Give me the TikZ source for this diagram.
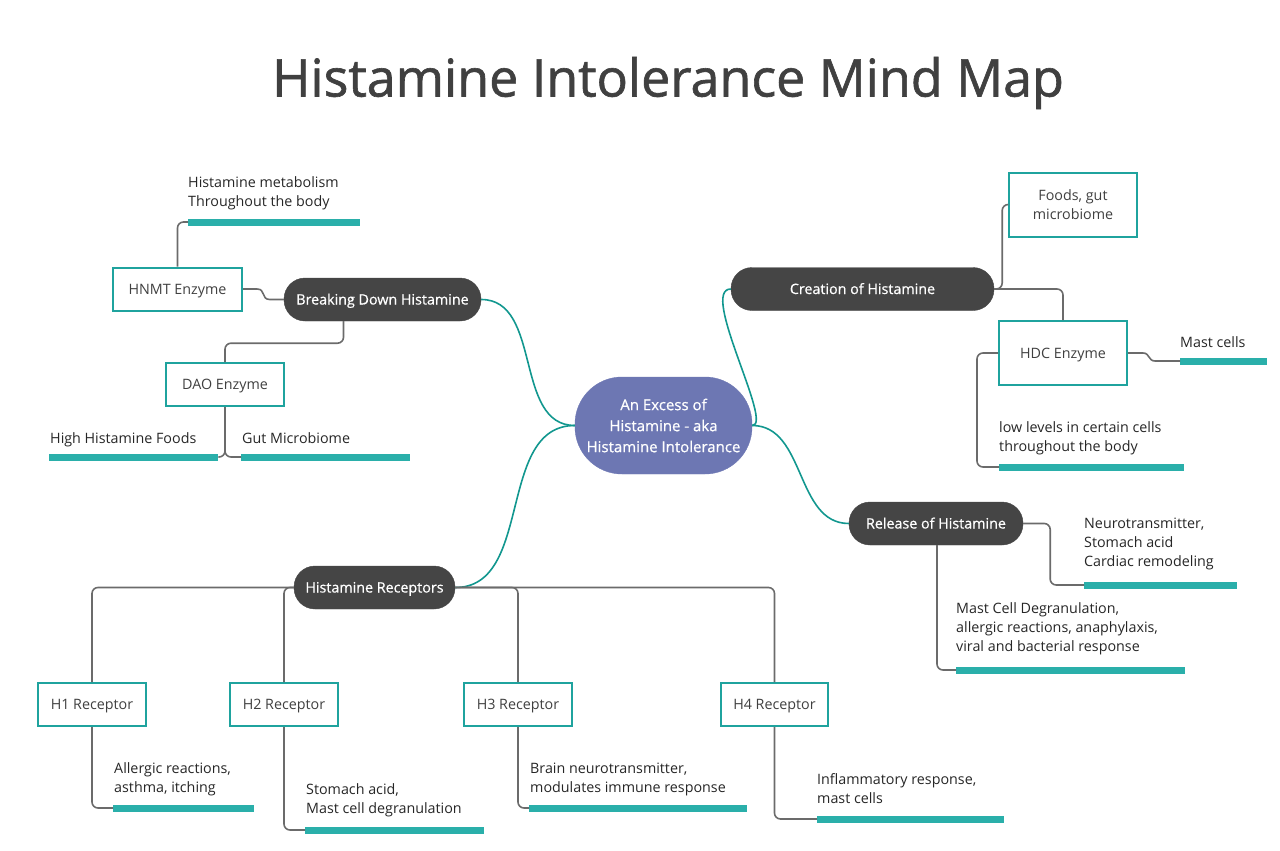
\documentclass[tikz,border=0pt]{standalone}
\usepackage{fontspec}
\setmainfont{Open Sans}
\newfontfamily\titlefont[FakeBold=1.2]{Open Sans}
\newfontfamily\pillfont[FakeBold=0.6]{Open Sans}
\usetikzlibrary{calc}
\definecolor{tealbar}{HTML}{2AAFAA}
\definecolor{tealbox}{HTML}{1FA39E}
\definecolor{tealline}{HTML}{12978F}
\definecolor{grayline}{HTML}{6B6B6B}
\definecolor{pillfill}{HTML}{454545}
\definecolor{ctrfill}{HTML}{6D77B3}
\definecolor{txtcol}{HTML}{262626}
\definecolor{titlecol}{HTML}{404040}
\begin{document}
\begin{tikzpicture}[x=1pt,y=-1pt,
  pill/.style={fill=pillfill, draw=pillfill, rounded corners=21pt, minimum height=43pt, text=white, font=\pillfont\fontsize{14.3}{17}\selectfont, inner sep=0pt, text height=10pt, text depth=0pt},
  boxbase/.style={draw=tealbox, line width=2pt, fill=white, text=titlecol, font=\fontsize{14.3}{19}\selectfont, minimum height=43pt, inner sep=0pt, align=center},
  boxn/.style={boxbase, text height=10pt, text depth=0pt},
  bar/.style={fill=tealbar, draw=none, minimum height=7pt, inner sep=0pt, anchor=west},
  txt/.style={text=txtcol, font=\fontsize{14.3}{19}\selectfont, align=left, inner sep=0pt, anchor=base west},
  conn/.style={draw=grayline, line width=1.6pt, rounded corners=6pt},
  tconn/.style={draw=tealline, line width=1.6pt}
]
\useasboundingbox (0,0) rectangle (1280,851);

% title
\node[text=titlecol, font=\titlefont\fontsize{52}{56}\selectfont, inner sep=0pt] (title) at (668,83) {Histamine Intolerance Mind Map};

% center
\node[fill=ctrfill, draw=ctrfill, rounded corners=47pt, minimum width=177pt, minimum height=97pt, text=white, align=center, inner sep=0pt, font=\pillfont\fontsize{15}{21}\selectfont] (ctr) at (663.5,425.5) {An Excess of\\Histamine - aka\\Histamine Intolerance};

% main branches
\node[pill, minimum width=197pt] (brk) at (382.5,299.5) {Breaking Down Histamine};
\node[pill, minimum width=263pt] (cre) at (862.5,289) {Creation of Histamine};
\node[pill, minimum width=174pt] (rel) at (936,523.5) {Release of Histamine};
\node[pill, minimum width=161pt] (rec) at (374.5,587.5) {Histamine Receptors};

% boxes
\node[boxn, minimum width=129pt] (hnmt) at (177.5,289) {HNMT Enzyme};
\node[boxn, minimum width=118pt] (dao) at (225,384.5) {DAO Enzyme};
\node[boxbase, minimum width=128pt, minimum height=64pt] (foods) at (1073,204.5) {Foods, gut\\microbiome};
\node[boxn, minimum width=128pt, minimum height=64pt] (hdc) at (1063,353) {HDC Enzyme};
\node[boxn, minimum width=108pt] (h1) at (92,704.5) {H1 Receptor};
\node[boxn, minimum width=108pt] (h2) at (284,704.5) {H2 Receptor};
\node[boxn, minimum width=108pt] (h3) at (518,704.5) {H3 Receptor};
\node[boxn, minimum width=107pt] (h4) at (774.5,704.5) {H4 Receptor};

% bars
\node[bar, minimum width=172pt] (bmet) at (188,222) {};
\node[bar, minimum width=169pt] (bhf) at (49,457) {};
\node[bar, minimum width=169pt] (bgm) at (241,457) {};
\node[bar, minimum width=87pt] (bmc) at (1180,361) {};
\node[bar, minimum width=185pt] (blow) at (999,467) {};
\node[bar, minimum width=153pt] (bnt) at (1084,585) {};
\node[bar, minimum width=229pt] (bmcd) at (956,670) {};
\node[bar, minimum width=141pt] (bh1) at (113,808) {};
\node[bar, minimum width=179pt] (bh2) at (305,830) {};
\node[bar, minimum width=218pt] (bh3) at (529,808) {};
\node[bar, minimum width=187pt] (bh4) at (817,819) {};

% texts (base anchor = baseline of last line)
\node[txt] (tmet) at (188,206) {Histamine metabolism\\Throughout the body};
\node[txt] (thf) at (50,443) {High Histamine Foods};
\node[txt] (tgm) at (242,443) {Gut Microbiome};
\node[txt] (tmc) at (1180,347) {Mast cells};
\node[txt] (tlow) at (999,451) {low levels in certain cells\\throughout the body};
\node[txt] (tnt) at (1084,566) {Neurotransmitter,\\Stomach acid\\Cardiac remodeling};
\node[txt] (tmcd) at (956,651) {Mast Cell Degranulation,\\allergic reactions, anaphylaxis,\\viral and bacterial response};
\node[txt] (th1) at (114,792) {Allergic reactions,\\asthma, itching};
\node[txt] (th2) at (306,813) {Stomach acid,\\Mast cell degranulation};
\node[txt] (th3) at (530,792) {Brain neurotransmitter,\\modulates immune response};
\node[txt] (th4) at (817,803) {Inflammatory response,\\mast cells};

% teal curves from center
\draw[tconn] (ctr.west) to[out=180,in=0] (brk.east);
\draw[tconn] (ctr.west) to[out=180,in=0] (rec.east);
\draw[tconn] (ctr.east) to[out=0,in=180] (rel.west);
\draw[tconn] (ctr.east) .. controls +(22,0) and +(-32,0) .. (cre.west);

% gray connectors
\draw[conn] (hnmt.north) |- (bmet.west);
\draw[conn, rounded corners=0pt] (hnmt.east) -- ++(14,0) .. controls +(9,0) and +(-9,0) .. ($(brk.west)+(-14,0)$) -- (brk.west);
\draw[conn] ([xshift=-39pt]brk.south) -- ++(0,22) -| (dao.north);
\draw[conn] (dao.south) |- (bhf.east);
\draw[conn] (dao.south) |- (bgm.west);

\draw[conn] (cre.east) -- ++(8,0) |- (foods.west);
\draw[conn] (cre.east) -| (hdc.north);
\draw[conn, rounded corners=0pt] (hdc.east) -- ++(15,0) .. controls +(7,0) and +(-7,0) .. ($(bmc.west)+(-25,0)$) -- (bmc.west);
\draw[conn] (hdc.west) -- ++(-21,0) |- (blow.west);

\draw[conn] (rel.east) -- ++(27,0) |- (bnt.west);
\draw[conn] ([xshift=1pt]rel.south) |- (bmcd.west);

\draw[conn] (rec.west) -| (h1.north);
\draw[conn] (rec.west) -| (h2.north);
\draw[conn] (rec.east) -| (h3.north);
\draw[conn] (rec.east) -| (h4.north);

\draw[conn] (h1.south) |- (bh1.west);
\draw[conn] (h2.south) |- (bh2.west);
\draw[conn] (h3.south) |- (bh3.west);
\draw[conn] (h4.south) |- (bh4.west);
\end{tikzpicture}
\end{document}
